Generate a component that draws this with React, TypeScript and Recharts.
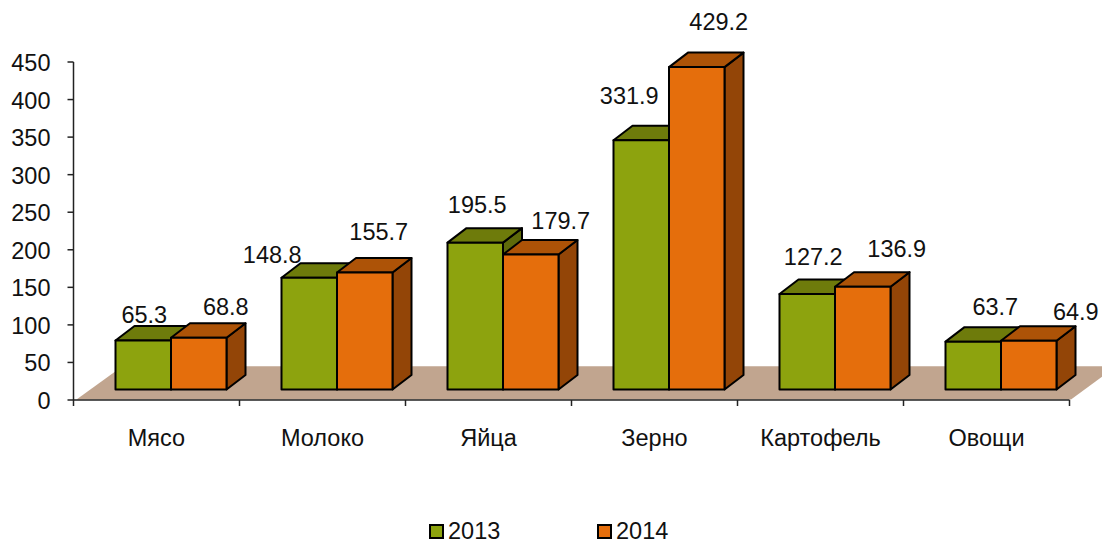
import { BarChart, Bar, XAxis, YAxis, Legend, LabelList, ReferenceArea } from "recharts";

const categories = ["Мясо", "Молоко", "Яйца", "Зерно", "Картофель", "Овощи"];
const values2013 = [65.3, 148.8, 195.5, 331.9, 127.2, 63.7];
const values2014 = [68.8, 155.7, 179.7, 429.2, 136.9, 64.9];
const yTicks = [0, 50, 100, 150, 200, 250, 300, 350, 400, 450];

const data = categories.map((name, i) => ({
  name,
  y2013: values2013[i],
  y2014: values2014[i],
}));

const FONT = "'Liberation Sans', Arial, sans-serif";
const TEXT = "#111";
const FONT_SIZE = 23.5;
const BAND = 166;
const SHIFT_X = 14;
const SHIFT_Y = -10.5;
const DEPTH_X = 19;
const DEPTH_Y = 14.5;

// data labels were hand placed in the original, so each one gets a nudge from the bar's top centre
const NUDGE_2013 = [[1, -25], [-37, -23], [2, -38], [-12, -44], [6, -37], [22, -35]];
const NUDGE_2014 = [[27, -31], [14, -41], [30, -34], [22, -45], [34, -38], [47, -29]];

function makeBox(front: string, top: string, side: string) {
  return function Box(props: any) {
    const { x, y, width, height } = props;
    const l = x + SHIFT_X;
    const r = l + width;
    const t = y + SHIFT_Y;
    const b = t + height;
    const common = { stroke: "#000", strokeWidth: 2, strokeLinejoin: "round" as const };
    return (
      <g>
        <polygon
          points={`${r},${t} ${r + DEPTH_X},${t - DEPTH_Y} ${r + DEPTH_X},${b - DEPTH_Y} ${r},${b}`}
          fill={side}
          {...common}
        />
        <polygon
          points={`${l},${t} ${l + DEPTH_X},${t - DEPTH_Y} ${r + DEPTH_X},${t - DEPTH_Y} ${r},${t}`}
          fill={top}
          {...common}
        />
        <rect x={l} y={t} width={width} height={height} fill={front} {...common} />
      </g>
    );
  };
}

const Box2013 = makeBox("#8DA30E", "#6E7B0B", "#5E6A0A");
const Box2014 = makeBox("#E56E0C", "#AD5307", "#934507");

function Floor(props: any) {
  const { x, y, width, height } = props;
  const bottom = y + height;
  return (
    <polygon
      points={`${x + 3},${bottom - 0.5} ${x + width + 1.5},${bottom - 0.5} ${x + width + 47},${y} ${x + 49},${y}`}
      fill="#C1A58F"
    />
  );
}

function makeLabel(nudge: number[][]) {
  return function ValueLabel(props: any) {
    const { x, y, width, value, index } = props;
    const [dx, dy] = nudge[index];
    return (
      <text
        x={x + SHIFT_X + width / 2 + dx}
        y={y + SHIFT_Y + dy}
        textAnchor="middle"
        dominantBaseline="central"
        fontFamily={FONT}
        fontSize={FONT_SIZE}
        fill={TEXT}
      >
        {Number(value).toFixed(1)}
      </text>
    );
  };
}

function CategoryTick(props: any) {
  const { x, payload, index } = props;
  const left = x - BAND / 2;
  return (
    <g>
      <line x1={left} y1={400} x2={left} y2={406} stroke="#222" strokeWidth={1.5} />
      {index === categories.length - 1 && (
        <line x1={left + BAND} y1={400} x2={left + BAND} y2={406} stroke="#222" strokeWidth={1.5} />
      )}
      <text
        x={x}
        y={438}
        textAnchor="middle"
        dominantBaseline="central"
        fontFamily={FONT}
        fontSize={FONT_SIZE}
        fill={TEXT}
      >
        {payload.value}
      </text>
    </g>
  );
}

function ValueTick(props: any) {
  const { x, y, payload } = props;
  return (
    <text
      x={x}
      y={y + 1}
      textAnchor="end"
      dominantBaseline="central"
      fontFamily={FONT}
      fontSize={FONT_SIZE}
      fill={TEXT}
    >
      {payload.value}
    </text>
  );
}

function LegendRow({ payload }: any) {
  return (
    <div
      style={{
        position: "absolute",
        left: 429,
        top: 11,
        height: 41,
        display: "flex",
        alignItems: "center",
        fontFamily: FONT,
        fontSize: FONT_SIZE,
        color: TEXT,
        whiteSpace: "nowrap",
      }}
    >
      {(payload || []).map((item: any) => (
        <div key={item.value} style={{ display: "flex", alignItems: "center", width: 168 }}>
          <span
            style={{
              width: 11,
              height: 11,
              background: item.color,
              border: "2px solid #000",
              marginRight: 4,
            }}
          />
          {item.value}
        </div>
      ))}
    </div>
  );
}

export default function App() {
  return (
    <div style={{ position: "absolute", left: 0, top: 0, width: 1102, height: 541, overflow: "hidden" }}>
      <BarChart
        width={1102}
        height={541}
        data={data}
        barSize={55.5}
        barGap={0}
        margin={{ top: 62, right: 32.5, bottom: 0, left: 0 }}
      >
        <XAxis
          dataKey="name"
          height={100}
          axisLine={{ stroke: "#222", strokeWidth: 1.5 }}
          tickLine={false}
          tick={<CategoryTick />}
          interval={0}
        />
        <YAxis
          width={73.5}
          domain={[0, 450]}
          ticks={yTicks}
          interval={0}
          axisLine={{ stroke: "#222", strokeWidth: 1.5 }}
          tickLine={{ stroke: "#222", strokeWidth: 1.5 }}
          tickSize={6}
          tickMargin={17}
          tick={<ValueTick />}
        />
        <ReferenceArea y1={0} y2={45} shape={<Floor />} fillOpacity={1} />
        <Legend height={41} verticalAlign="bottom" content={<LegendRow />} />
        <Bar dataKey="y2013" name="2013" fill="#8DA30E" shape={Box2013} isAnimationActive={false}>
          <LabelList dataKey="y2013" content={makeLabel(NUDGE_2013)} />
        </Bar>
        <Bar dataKey="y2014" name="2014" fill="#E56E0C" shape={Box2014} isAnimationActive={false}>
          <LabelList dataKey="y2014" content={makeLabel(NUDGE_2014)} />
        </Bar>
      </BarChart>
    </div>
  );
}
